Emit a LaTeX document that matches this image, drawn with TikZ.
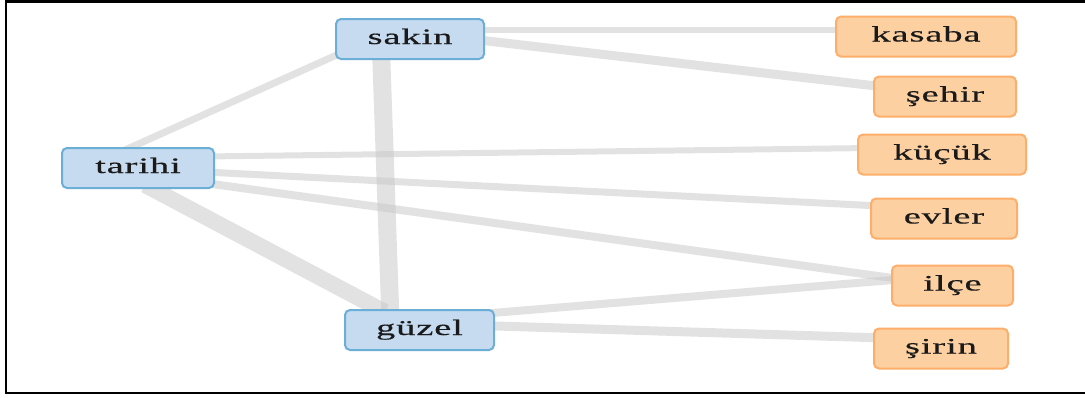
\documentclass[tikz,border=0pt]{standalone}
\usepackage{fontspec}
\setmainfont[FakeStretch=1.75,LetterSpace=4,FakeBold=0.4]{Liberation Serif}
\usetikzlibrary{backgrounds,calc}
\definecolor{bfill}{HTML}{C6DBEF}
\definecolor{bline}{HTML}{6BAED6}
\definecolor{ofill}{HTML}{FDD0A2}
\definecolor{oline}{HTML}{FDAE6B}
\definecolor{txt}{HTML}{1A1A1A}
\tikzset{
  word/.style={rounded corners=5pt, line width=2pt, inner sep=0pt,
    minimum height=40pt, text height=15pt, text depth=5pt,
    font=\fontsize{22pt}{24pt}\selectfont, text=txt},
  bluebox/.style={word, fill=bfill, draw=bline},
  orangebox/.style={word, fill=ofill, draw=oline},
  link/.style={draw=black!22, draw opacity=0.5, line cap=butt}
}
\begin{document}
\begin{tikzpicture}[x=1pt,y=-1pt]
\useasboundingbox (0,0) rectangle (1085,397);
% nodes
\node[bluebox, minimum width=148pt] (sakin) at (410,39) {sakin};
\node[bluebox, minimum width=152pt] (tarihi) at (138,168) {tarihi};
\node[bluebox, minimum width=149pt] (guzel) at (419.5,330) {güzel};
\node[orangebox, minimum width=180pt] (kasaba) at (926,36.5) {kasaba};
\node[orangebox, minimum width=142pt] (sehir) at (945,96.5) {şehir};
\node[orangebox, minimum width=168pt] (kucuk) at (942,154.5) {küçük};
\node[orangebox, minimum width=146pt] (evler) at (944,218.5) {evler};
\node[orangebox, minimum width=121pt] (ilce) at (952.5,285.5) {ilçe};
\node[orangebox, minimum width=134pt] (sirin) at (941,348.5) {şirin};
% connectors and frame behind the nodes
\begin{pgfonlayer}{background}
\fill[white] (0,0) rectangle (1085,397);
\draw[line width=2.5pt,black] (1090,1.5) -- (6,1.5) -- (6,393) -- (1090,393);
\draw[link, line width=7pt] ($(tarihi)+(-13,-18)$) -- ($(sakin)+(-60,10)$);
\draw[link, line width=6pt] ($(tarihi)+(67,-11.5)$) -- ($(kucuk)+(-72,-6.5)$);
\draw[link, line width=7pt] ($(tarihi)+(67,4)$) -- ($(evler)+(-64,-12.5)$);
\draw[link, line width=8pt] ($(tarihi)+(67,15)$) -- ($(ilce)+(-52.5,-6.5)$);
\draw[link, line width=16pt] ($(tarihi)+(7,17)$) -- ($(guzel)+(-34.5,-18)$);
\draw[link, line width=6.5pt] ($(sakin)+(60,-9)$) -- ($(kasaba)+(-76,-6.5)$);
\draw[link, line width=9pt] ($(sakin)+(60,0)$) -- ($(sehir)+(-60,-9.5)$);
\draw[link, line width=18pt] ($(sakin)+(-29,11)$) -- ($(guzel)+(-29,-10)$);
\draw[link, line width=8pt] ($(guzel)+(60.5,-16)$) -- ($(ilce)+(-47.5,-6.5)$);
\draw[link, line width=9pt] ($(guzel)+(60.5,-4.5)$) -- ($(sirin)+(-56,-10.5)$);
\end{pgfonlayer}
\end{tikzpicture}
\end{document}
